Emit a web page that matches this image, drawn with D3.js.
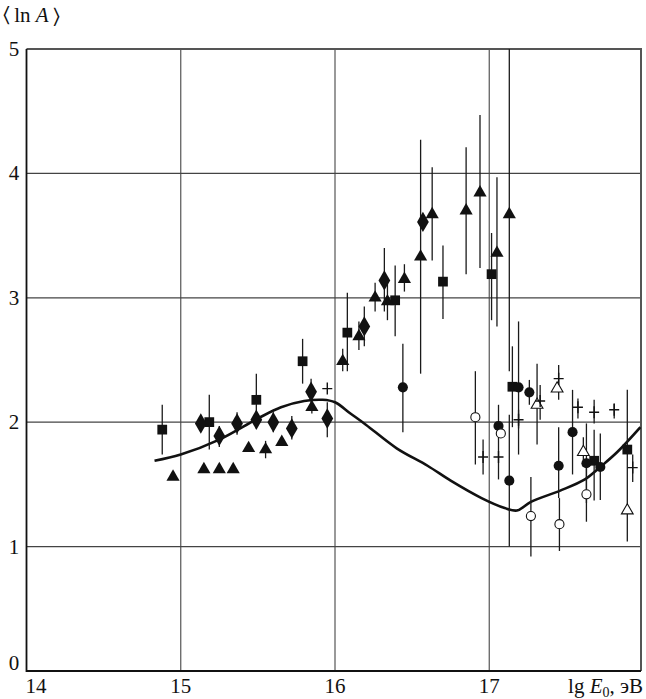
<!DOCTYPE html>
<html>
<head>
<meta charset="utf-8">
<script src="https://cdn.jsdelivr.net/npm/d3@7"></script>
<style>
  body { margin: 0; background: #fff; }
</style>
</head>
<body>
<div id="container"></div>
<script>
// ---- data: [lg E0, <ln A>, bar low, bar high] ----
const squares = [
  [14.88, 1.94, 1.74, 2.14], [15.185, 2.00, 1.78, 2.22], [15.49, 2.18, 1.95, 2.39],
  [15.79, 2.49, 2.31, 2.67], [16.08, 2.72, 2.41, 3.04], [16.39, 2.98, 2.69, 3.26],
  [16.70, 3.13, 2.83, 3.42], [17.015, 3.19, 2.82, 3.52], [17.15, 2.285, 1.96, 2.61],
  [17.68, 1.69, 1.37, 1.94], [17.895, 1.78, 1.04, 2.26]
];
const diamonds = [
  [15.13, 1.99], [15.25, 1.89, 1.80, 1.97], [15.365, 1.99, 1.90, 2.08], [15.49, 2.02],
  [15.60, 2.00, 1.92, 2.08], [15.72, 1.95, 1.86, 2.05], [15.845, 2.245, 2.15, 2.35],
  [15.95, 2.03, 1.88, 2.16], [16.19, 2.77, 2.61, 2.93], [16.32, 3.14, 2.89, 3.40],
  [16.57, 3.61]
];
const triangles = [
  [14.95, 1.56], [15.15, 1.62], [15.25, 1.62], [15.34, 1.62], [15.44, 1.79],
  [15.55, 1.78, 1.71, 1.85], [15.655, 1.84], [15.85, 2.12, 2.07, 2.18],
  [16.05, 2.49, 2.41, 2.59], [16.155, 2.69, 2.58, 2.81], [16.26, 3.00, 2.89, 3.12],
  [16.34, 2.97, 2.82, 3.12], [16.45, 3.15, 3.05, 3.27], [16.555, 3.33, 2.39, 4.27],
  [16.63, 3.67, 3.30, 4.05], [16.85, 3.70, 3.19, 4.21], [16.94, 3.845, 3.24, 4.47],
  [17.05, 3.36, 2.77, 3.97], [17.13, 3.67, 2.41, 5.0]
];
const circles = [
  [16.44, 2.28, 1.92, 2.63], [17.06, 1.97, 1.54, 2.14], [17.13, 1.53, 1.0, 2.06],
  [17.19, 2.28, 1.74, 2.81], [17.26, 2.24, 2.14, 2.34], [17.45, 1.65, 1.39, 1.96],
  [17.54, 1.92, 1.58, 2.26], [17.63, 1.67, 1.35, 1.99], [17.72, 1.64, 1.375, 1.91]
];
const openCircles = [
  [16.91, 2.04, 1.66, 2.41], [17.075, 1.91], [17.27, 1.245, 0.92, 1.56],
  [17.455, 1.18, 0.965, 1.39], [17.63, 1.42, 1.20, 1.63]
];
const openTriangles = [
  [17.31, 2.14, 1.82, 2.47], [17.44, 2.27], [17.61, 1.76, 1.64, 1.88], [17.895, 1.29]
];
const pluses = [
  [15.95, 2.27], [16.96, 1.72, 1.58, 1.86], [17.06, 1.72], [17.19, 2.02, 1.95, 2.10],
  [17.33, 2.17, 2.02, 2.30], [17.45, 2.35, 2.18, 2.46], [17.575, 2.12, 2.03, 2.19],
  [17.68, 2.08, 1.99, 2.18], [17.81, 2.10, 2.03, 2.15], [17.93, 1.635, 1.52, 1.74]
];
// model curve
const curve = [
  [14.83, 1.69], [15.0, 1.74], [15.25, 1.86], [15.5, 2.03], [15.65, 2.12], [15.8, 2.17],
  [15.92, 2.18], [16.0, 2.16], [16.1, 2.07], [16.2, 1.98], [16.4, 1.79], [16.6, 1.65],
  [16.75, 1.53], [16.95, 1.39], [17.1, 1.31], [17.18, 1.29], [17.27, 1.36], [17.46, 1.45],
  [17.62, 1.54], [17.72, 1.64], [17.83, 1.76], [17.98, 1.96]
];
const xTicks = [15, 16, 17];
const yTicks = [1, 2, 3, 4];
const yLabels = [1, 2, 3, 4, 5];

const width = 646, height = 699;
const m = { left: 26.5, right: 641, top: 49, bottom: 671 };
const serif = "'Liberation Serif', 'Times New Roman', Times, 'DejaVu Serif', serif";

const svg = d3.select("#container").append("svg")
  .attr("width", width)
  .attr("height", height)
  .attr("font-family", serif);

const x = d3.scaleLinear().domain([14, 18]).range([m.left, 643.5]);
const y = d3.scaleLinear().domain([0, 5]).range([m.bottom, m.top]);

svg.append("clipPath").attr("id", "plot")
  .append("rect").attr("x", m.left).attr("y", m.top)
  .attr("width", m.right - m.left).attr("height", m.bottom - m.top);

// grid
svg.append("g").selectAll("line").data(xTicks).enter().append("line")
  .attr("x1", d => x(d)).attr("x2", d => x(d))
  .attr("y1", m.top).attr("y2", m.bottom)
  .attr("stroke", "#555").attr("stroke-width", 1.2);
svg.append("g").selectAll("line").data(yTicks).enter().append("line")
  .attr("x1", m.left).attr("x2", m.right)
  .attr("y1", d => y(d)).attr("y2", d => y(d))
  .attr("stroke", "#444").attr("stroke-width", 1.2);

// frame: top/right grey, left/bottom black
svg.append("path")
  .attr("d", `M${m.left},${m.top}H${m.right}V${m.bottom}`)
  .attr("fill", "none").attr("stroke", "#555").attr("stroke-width", 2);
svg.append("path")
  .attr("d", `M${m.left},${m.top}V${m.bottom}H${m.right}`)
  .attr("fill", "none").attr("stroke", "#111").attr("stroke-width", 1.8);

const plot = svg.append("g").attr("clip-path", "url(#plot)");

// curve
plot.append("path")
  .datum(curve)
  .attr("d", d3.line().x(d => x(d[0])).y(d => y(d[1])).curve(d3.curveCatmullRom))
  .attr("fill", "none").attr("stroke", "#111").attr("stroke-width", 2.6);

// error bars
const all = [squares, diamonds, triangles, circles, openCircles, openTriangles, pluses]
  .flat().filter(d => d.length > 2);
plot.append("g").selectAll("line").data(all).enter().append("line")
  .attr("x1", d => x(d[0])).attr("x2", d => x(d[0]))
  .attr("y1", d => y(d[2])).attr("y2", d => y(d[3]))
  .attr("stroke", "#1a1a1a").attr("stroke-width", 1.3);

function markers(data, type, size, fill, stroke) {
  plot.append("g").selectAll("path").data(data).enter().append("path")
    .attr("transform", d => `translate(${x(d[0])},${y(d[1])})`)
    .attr("d", d3.symbol().type(type).size(size))
    .attr("fill", fill)
    .attr("stroke", stroke ? "#111" : "none")
    .attr("stroke-width", 1.1);
}
markers(squares, d3.symbolSquare, 95, "#111");
markers(diamonds, d3.symbolDiamond, 120, "#111");
markers(triangles, d3.symbolTriangle, 75, "#111");
markers(circles, d3.symbolCircle, 80, "#111");
markers(openCircles, d3.symbolCircle, 65, "#fff", true);
markers(openTriangles, d3.symbolTriangle, 60, "#fff", true);

// pluses
plot.append("g").selectAll("path").data(pluses).enter().append("path")
  .attr("d", d => `M${x(d[0]) - 5},${y(d[1])}H${x(d[0]) + 5}M${x(d[0])},${y(d[1]) - 6}V${y(d[1]) + 6}`)
  .attr("stroke", "#111").attr("stroke-width", 1.4);

// tick labels
const fs = 21;
svg.append("g").selectAll("text").data(xTicks).enter().append("text")
  .attr("x", d => x(d)).attr("y", 693)
  .attr("text-anchor", "middle").attr("font-size", fs).attr("fill", "#111")
  .text(d => d);
svg.append("text").attr("x", 36).attr("y", 693)
  .attr("text-anchor", "middle").attr("font-size", fs).attr("fill", "#111").text("14");
svg.append("g").selectAll("text").data(yLabels).enter().append("text")
  .attr("x", 14).attr("y", d => y(d) + 7)
  .attr("text-anchor", "middle").attr("font-size", fs).attr("fill", "#111")
  .text(d => d);
svg.append("text").attr("x", 14).attr("y", 670)
  .attr("text-anchor", "middle").attr("font-size", fs).attr("fill", "#111").text("0");

// axis titles
const yt = svg.append("text").attr("x", 3).attr("y", 22).attr("font-size", fs).attr("fill", "#111");
yt.append("tspan").text("\u2329\u2009ln ");
yt.append("tspan").attr("font-style", "italic").text("A");
yt.append("tspan").text("\u2009\u232A");

const xt = svg.append("text").attr("x", 643).attr("y", 693)
  .attr("text-anchor", "end").attr("font-size", fs).attr("fill", "#111");
xt.append("tspan").text("lg ");
xt.append("tspan").attr("font-style", "italic").text("E");
xt.append("tspan").attr("font-size", 14).attr("dy", 4).text("0");
xt.append("tspan").attr("dy", -4).text(", эВ");
</script>
</body>
</html>
